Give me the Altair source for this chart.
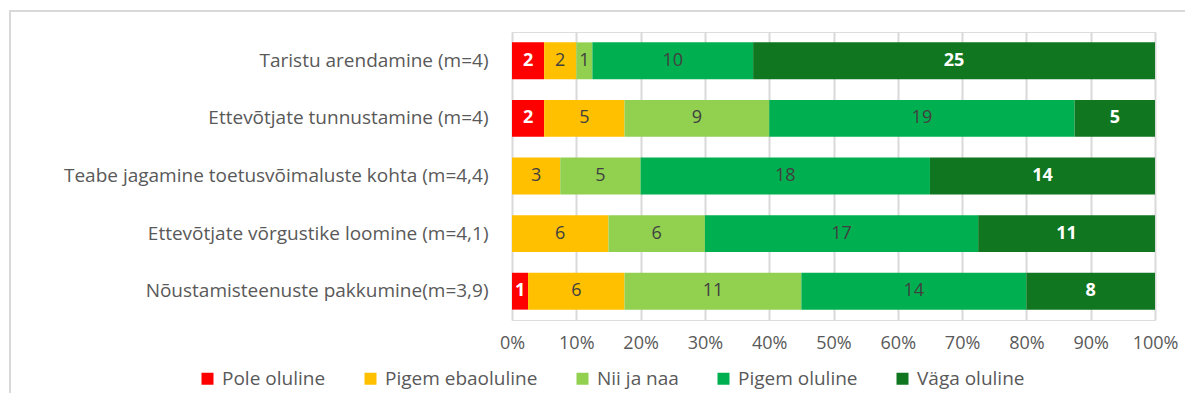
import altair as alt
import pandas as pd

categories = [
    "Taristu arendamine (m=4)",
    "Ettevõtjate tunnustamine (m=4)",
    "Teabe jagamine toetusvõimaluste kohta (m=4,4)",
    "Ettevõtjate võrgustike loomine  (m=4,1)",
    "Nõustamisteenuste pakkumine(m=3,9)",
]
series = ["Pole oluline", "Pigem ebaoluline", "Nii ja naa", "Pigem oluline", "Väga oluline"]
colors = ["#FF0000", "#FFC000", "#92D050", "#00B050", "#107620"]
pole = [2, 2, 0, 0, 1]
pigem_eba = [2, 5, 3, 6, 6]
nii_ja_naa = [1, 9, 5, 6, 11]
pigem_ol = [10, 19, 18, 17, 14]
vaga = [25, 5, 14, 11, 8]
tick_values = [0, 0.1, 0.2, 0.3, 0.4, 0.5, 0.6, 0.7, 0.8, 0.9, 1.0]

cols = [pole, pigem_eba, nii_ja_naa, pigem_ol, vaga]
rows = []
for ci, c in enumerate(categories):
    for si, s in enumerate(series):
        rows.append({"cat": c, "series": s, "order": si, "value": cols[si][ci]})
df = pd.DataFrame(rows)

FONT = "Open Sans"
W, H = 643, 288

base = (
    alt.Chart(df)
    .transform_joinaggregate(total="sum(value)", groupby=["cat"])
    .transform_calculate(pct="datum.value / datum.total")
    .transform_stack(stack="pct", groupby=["cat"], sort=[alt.SortField("order")], as_=["x0", "x1"])
    .transform_calculate(mid="(datum.x0 + datum.x1) / 2")
)

y_enc = alt.Y(
    "cat:N",
    sort=categories,
    title=None,
    scale=alt.Scale(paddingInner=0.36, paddingOuter=0.18),
    axis=alt.Axis(
        domain=False, ticks=False, labelFontSize=19, labelColor="#595959",
        labelFont=FONT, labelPadding=24, labelLimit=600,
    ),
)

bars = base.mark_bar().encode(
    x=alt.X(
        "x0:Q",
        scale=alt.Scale(domain=[0, 1], nice=False),
        title=None,
        axis=alt.Axis(
            values=tick_values, format=".0%", domain=False, ticks=False,
            grid=True, gridColor="#D9D9D9", gridWidth=2,
            labelFlush=False, labelOverlap=False,
            labelFontSize=18, labelColor="#595959", labelFont=FONT, labelPadding=14,
        ),
    ),
    x2="x1:Q",
    y=y_enc,
    color=alt.Color(
        "series:N",
        scale=alt.Scale(domain=series, range=colors),
        sort=series,
        title=None,
        legend=alt.Legend(
            orient="none", direction="horizontal", columns=5,
            legendX=-314, legendY=337,
            symbolType="square", symbolSize=144, symbolStrokeWidth=0,
            labelFontSize=19, labelColor="#595959", labelFont=FONT,
            columnPadding=35, labelOffset=5,
        ),
    ),
    order=alt.Order("order:Q"),
)

white_labels = base.transform_filter(
    "datum.value > 0 && (datum.order == 0 || datum.order == 4)"
).mark_text(fontSize=18, font=FONT, fontWeight="bold", color="white").encode(
    x="mid:Q", y=alt.Y("cat:N", sort=categories), text="value:Q"
)

dark_labels = base.transform_filter(
    "datum.value > 0 && datum.order > 0 && datum.order < 4"
).mark_text(fontSize=18, font=FONT, color="#404040").encode(
    x="mid:Q", y=alt.Y("cat:N", sort=categories), text="value:Q"
)

frame_df = pd.DataFrame({"k": [0]})
frame_v = alt.Chart(frame_df).mark_rule(color="#D9D9D9", strokeWidth=2).encode(
    x=alt.value(-502), y=alt.value(-21), y2=alt.value(400)
)
frame_h = alt.Chart(frame_df).mark_rule(color="#D9D9D9", strokeWidth=2).encode(
    x=alt.value(-503), x2=alt.value(720), y=alt.value(-21)
)

chart = (
    alt.layer(bars, white_labels, dark_labels, frame_v, frame_h)
    .properties(
        width=W, height=H,
        autosize=alt.AutoSizeParams(type="none"),
        padding={"left": 504, "top": 24, "right": 30, "bottom": 73},
    )
    .configure_view(stroke=None)
    .configure(background="white")
)

chart.save("out.html", embed_options={"renderer": "svg", "actions": False})
